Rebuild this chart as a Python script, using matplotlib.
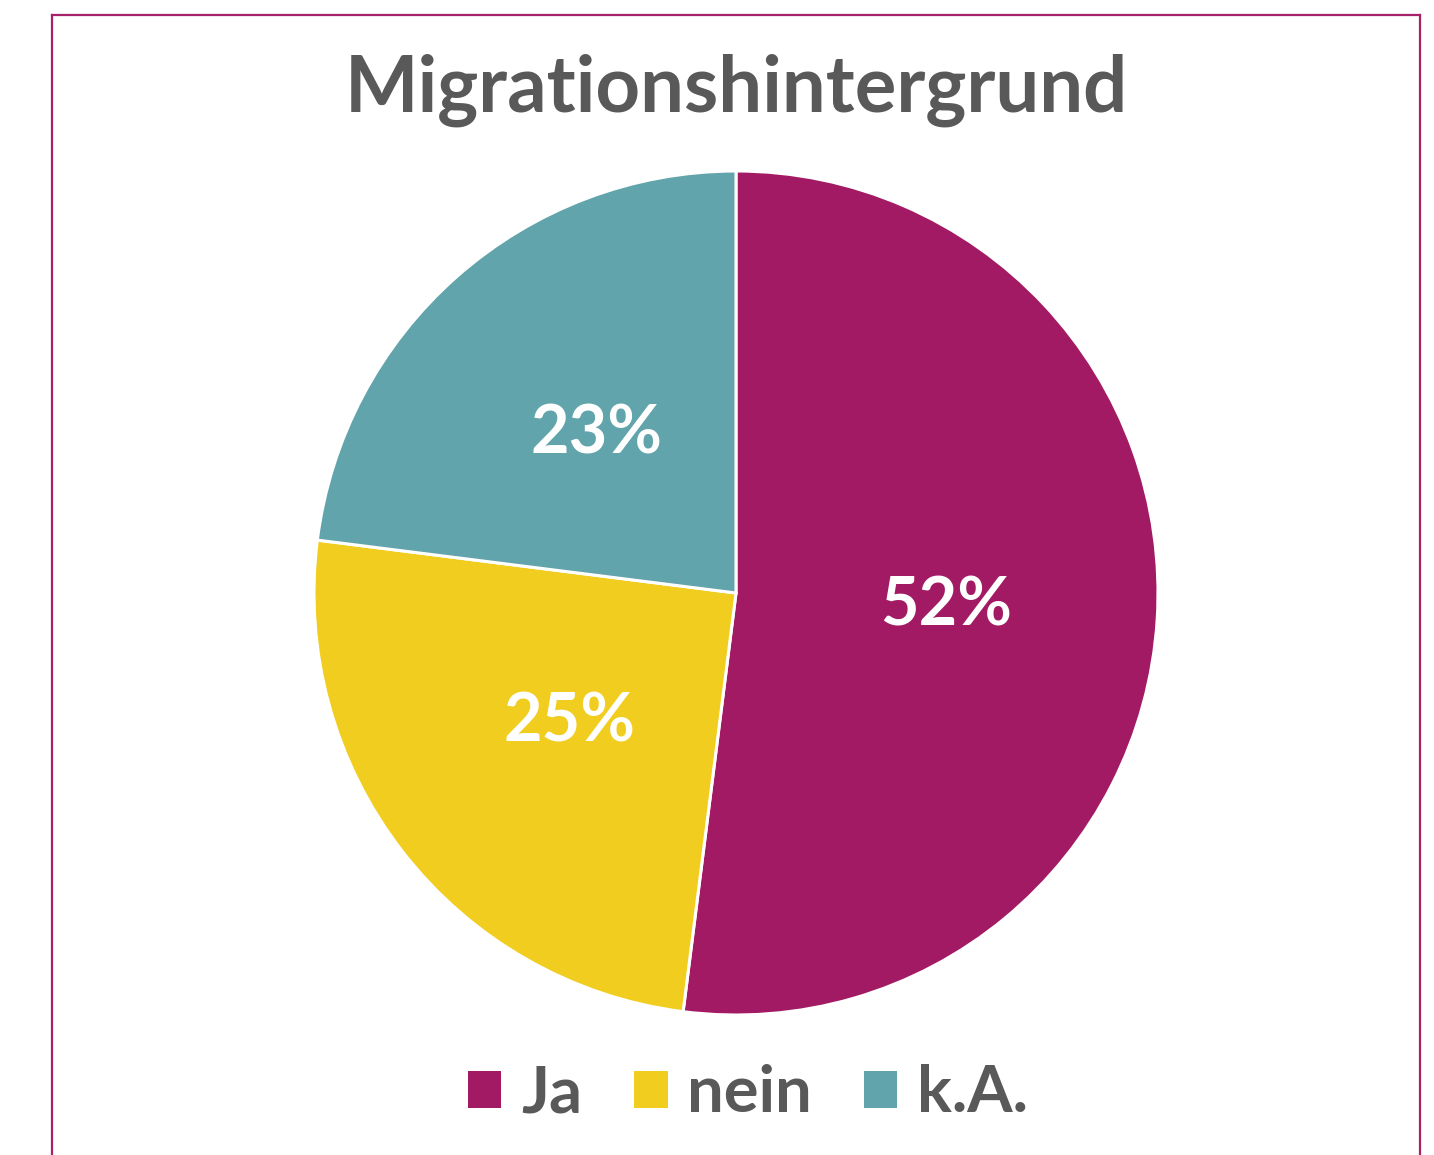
import matplotlib.pyplot as plt
from matplotlib.patches import Patch
from matplotlib.lines import Line2D

""" Data """
labels = ['Ja', 'nein', 'k.A.']
shares = [52, 25, 23]
colors = ['#A31A64', '#F1CD1F', '#62A4AB']
title = 'Migrationshintergrund'

W, H = 1434, 1155
grey = '#595959'
plt.rcParams['font.family'] = ['Lato', 'DejaVu Sans']

fig = plt.figure(figsize=(W / 100, H / 100), dpi=100)

# frame around the chart (open at the bottom)
frame = '#A8216B'
for xs, ys in [([52, 52], [1155, 15]), ([52, 1420], [15, 15]), ([1420, 1420], [15, 1155])]:
    fig.add_artist(Line2D([x / W for x in xs], [1 - y / H for y in ys],
                          color=frame, lw=1.6, transform=fig.transFigure))

""" Pie """
cx, cy, r = 736, 593, 422
ax = fig.add_axes([(cx - r) / W, (H - cy - r) / H, 2 * r / W, 2 * r / H])
ax.pie(shares, colors=colors, startangle=90, counterclock=False,
       autopct='%d%%', pctdistance=0.5, radius=1,
       wedgeprops=dict(edgecolor='white', linewidth=2.2),
       textprops=dict(color='white', fontsize=48, fontweight='bold'))
ax.set_xlim(-1, 1)
ax.set_ylim(-1, 1)
ax.set_aspect('equal')
ax.axis('off')

fig.text(cx / W, 1 - 112 / H, title, ha='center', va='baseline',
         fontsize=56, fontweight='bold', color=grey)

handles = [Patch(facecolor=c, edgecolor='none') for c in colors]
leg = fig.legend(handles, labels, loc='center', bbox_to_anchor=(748 / W, 1 - 1094 / H),
                 ncol=3, frameon=False, fontsize=47, handlelength=0.51, handleheight=0.51,
                 handletextpad=0.3, columnspacing=0.8, borderpad=0)
for t in leg.get_texts():
    t.set_color(grey)
    t.set_fontweight('bold')

fig.savefig('out.png', dpi=100)
